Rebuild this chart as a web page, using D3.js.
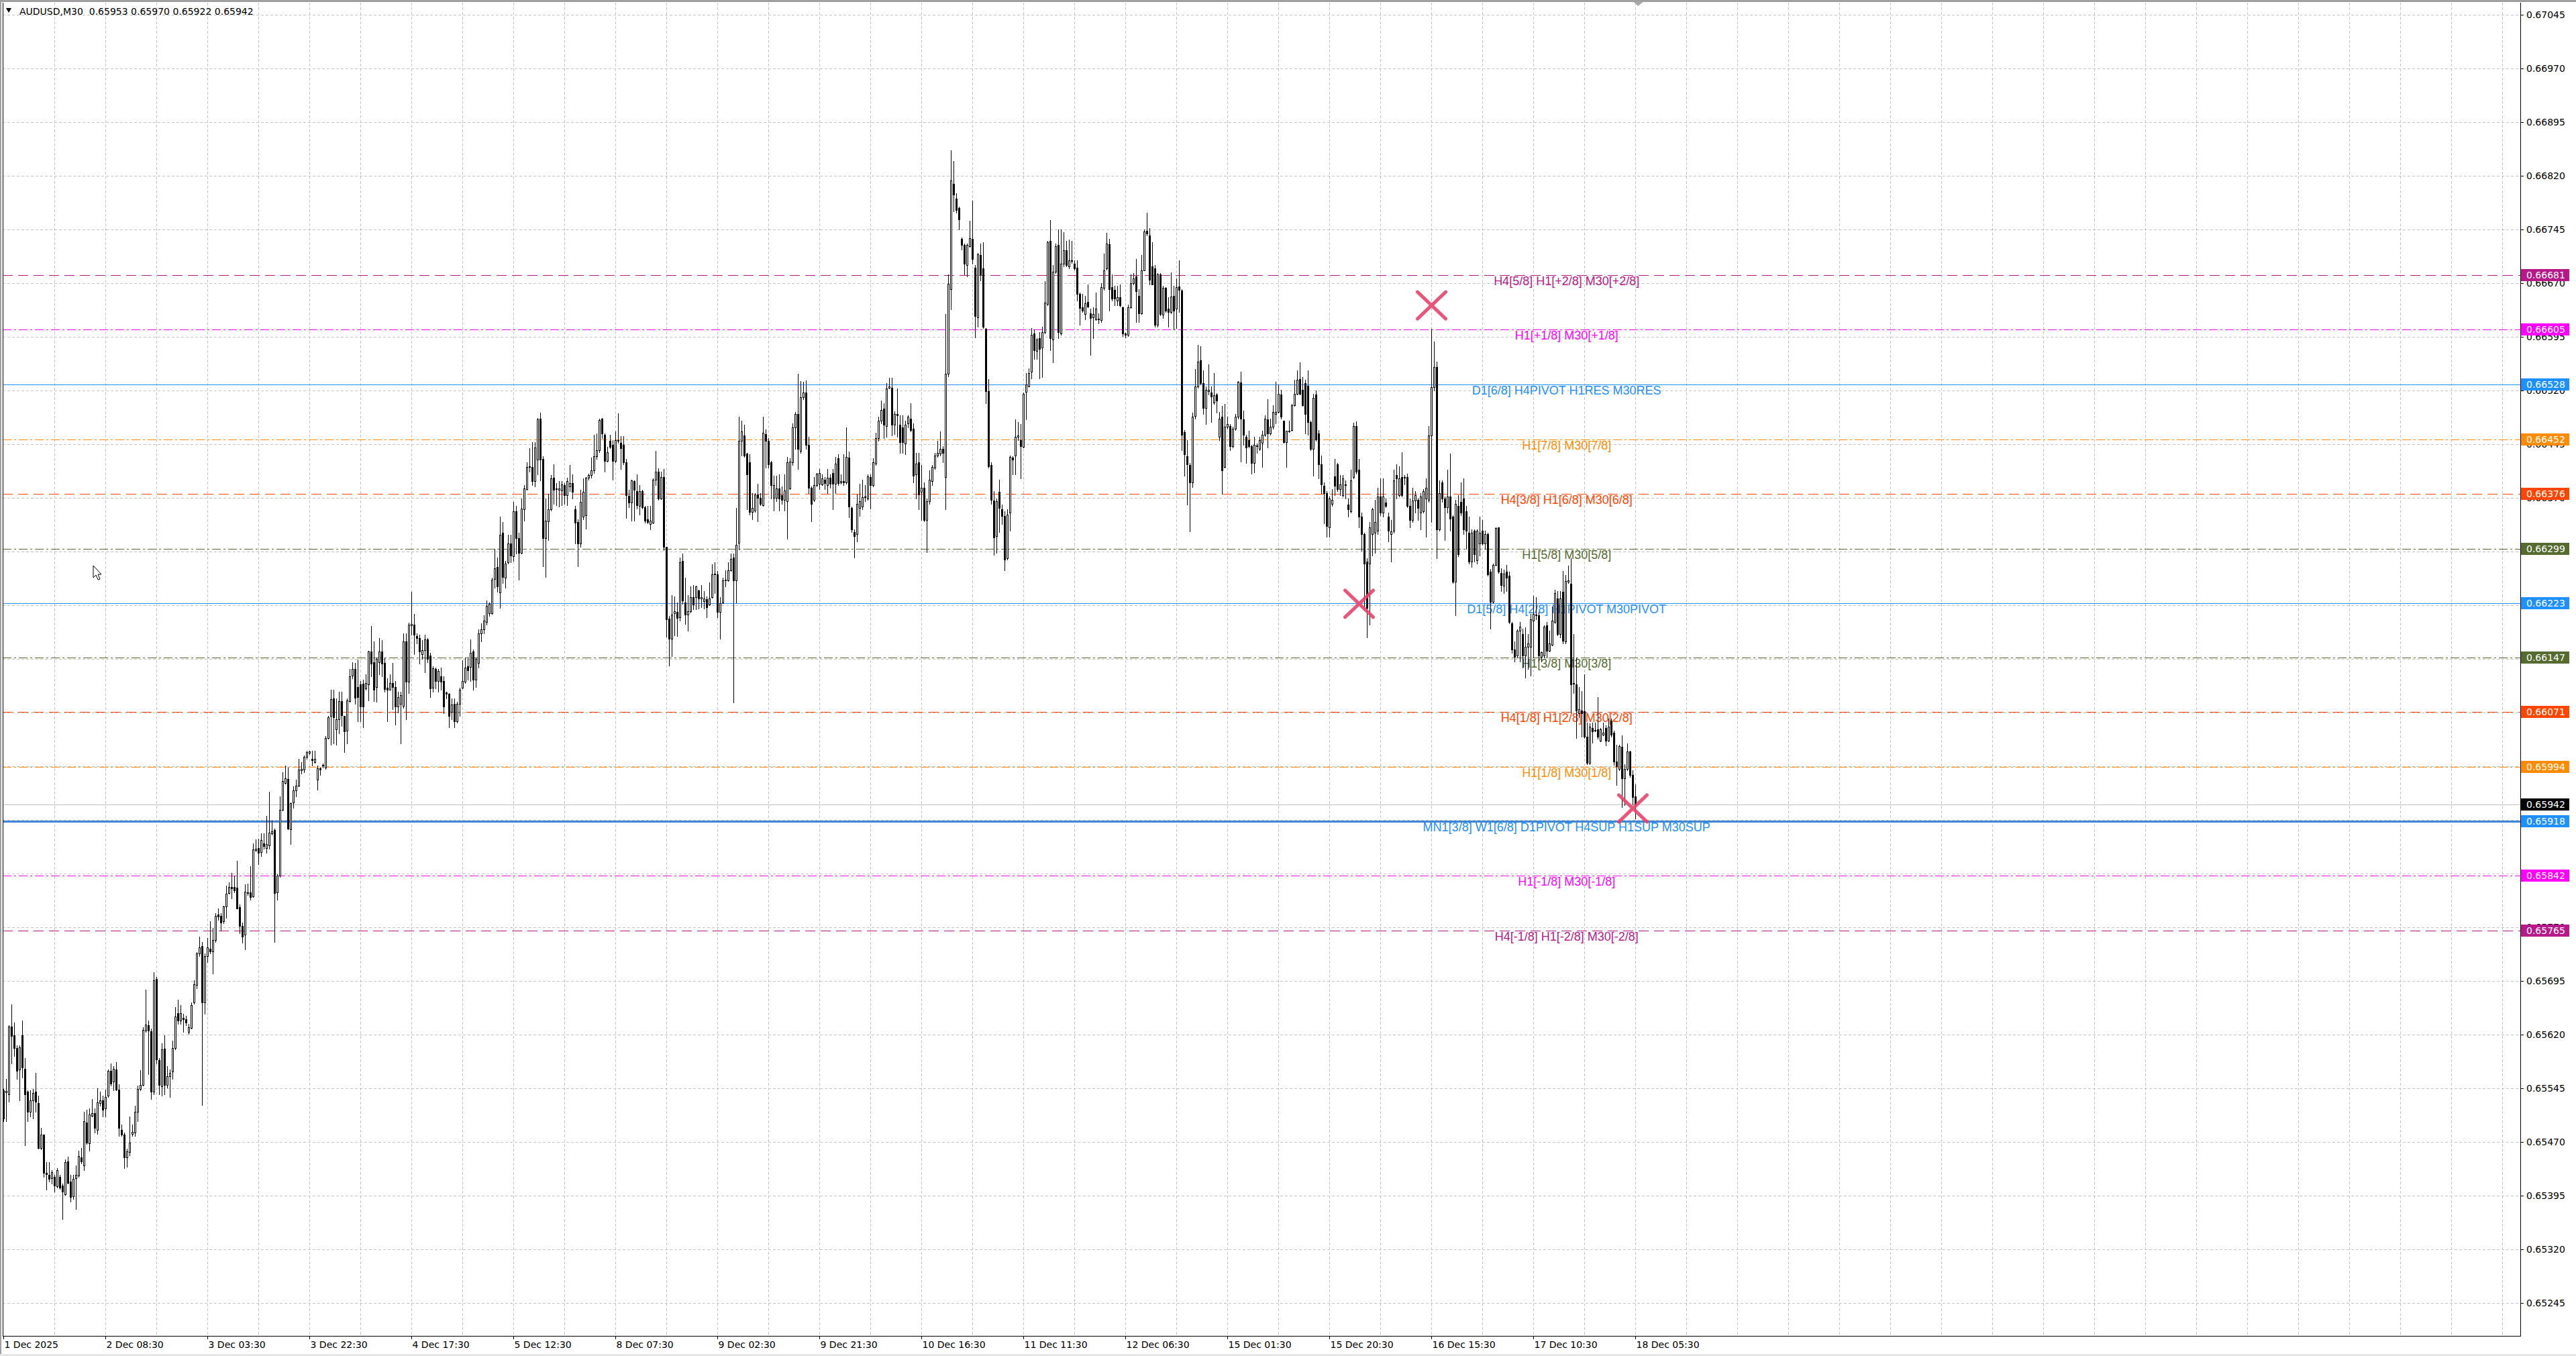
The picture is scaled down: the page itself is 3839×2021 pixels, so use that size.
<!DOCTYPE html>
<html>
<head>
<meta charset="utf-8">
<script src="https://cdn.jsdelivr.net/npm/d3@7"></script>
<style>
html, body { margin: 0; padding: 0; background: #fff; }
svg { display: block; }
</style>
</head>
<body>
<svg id="chart" width="3839" height="2021"></svg>
<script>
// AUDUSD M30 chart with Murrey/pivot levels

const symbolTitle = 'AUDUSD,M30  0.65953 0.65970 0.65922 0.65942';

// one row per M30 bar : [open, high, low, close] in points (1 point = 0.00001)
const bars = [
// 0
[65542,65544,65499,65503],[65539,65558,65499,65541],[65537,65633,65526,65631],[65631,65662,65580,65618],[65619,65637,65590,65601],
[65601,65605,65558,65569],[65571,65605,65528,65602],[65619,65640,65560,65574],[65572,65587,65465,65537],[65540,65542,65499,65512],
[65512,65542,65506,65528],[65528,65544,65503,65538],[65540,65567,65512,65526],[65524,65535,65461,65462],[65462,65490,65460,65480],
[65480,65480,65421,65427],[65427,65442,65403,65425],[65424,65442,65415,65418],[65419,65431,65412,65428],[65421,65424,65401,65409],
// 20
[65408,65433,65406,65431],[65421,65424,65404,65406],[65409,65412,65362,65401],[65397,65446,65396,65442],[65443,65449,65412,65413],
[65415,65424,65387,65393],[65394,65424,65390,65418],[65419,65437,65376,65424],[65423,65458,65421,65450],[65448,65462,65440,65443],
[65437,65512,65431,65499],[65497,65515,65467,65469],[65468,65517,65458,65508],[65507,65530,65506,65510],[65510,65517,65483,65490],
[65487,65545,65481,65525],[65524,65540,65521,65528],[65528,65535,65506,65515],[65517,65543,65506,65533],[65535,65571,65533,65569],
// 40
[65569,65580,65549,65552],[65554,65576,65542,65572],[65571,65582,65542,65543],[65543,65551,65478,65490],[65487,65494,65478,65480],
[65480,65483,65433,65448],[65448,65461,65435,65457],[65456,65506,65451,65469],[65481,65494,65478,65484],[65483,65521,65478,65512],
[65512,65549,65499,65544],[65544,65570,65542,65550],[65550,65630,65549,65627],[65626,65683,65624,65634],[65633,65640,65565,65626],
[65625,65628,65530,65540],[65540,65707,65537,65696],[65698,65701,65580,65585],[65584,65587,65537,65550],[65548,65608,65535,65599],
// 60
[65600,65619,65537,65550],[65550,65576,65546,65562],[65562,65571,65533,65567],[65568,65612,65558,65601],[65601,65658,65599,65645],
[65650,65669,65635,65640],[65640,65661,65635,65650],[65643,65649,65624,65642],[65642,65646,65633,65637],[65624,65635,65621,65630],
[65629,65665,65628,65661],[65665,65696,65663,65690],[65689,65735,65685,65733],[65733,65757,65730,65742],[65744,65749,65522,65665],
[65665,65733,65649,65730],[65730,65755,65721,65742],[65740,65778,65733,65736],[65736,65769,65705,65752],[65752,65790,65749,65786],
// 80
[65788,65796,65780,65785],[65786,65790,65765,65777],[65778,65800,65776,65799],[65799,65828,65783,65817],[65818,65833,65817,65826],
[65826,65846,65810,65824],[65826,65842,65819,65822],[65825,65863,65796,65796],[65798,65802,65762,65772],[65772,65777,65748,65757],
[65760,65830,65739,65820],[65818,65831,65815,65819],[65819,65855,65808,65812],[65813,65887,65812,65879],[65878,65893,65876,65880],
[65881,65894,65858,65874],[65875,65901,65869,65892],[65887,65901,65880,65883],[65881,65926,65874,65886],[65884,65959,65880,65902],
// 100
[65901,65919,65899,65904],[65906,65908,65749,65818],[65819,65844,65808,65842],[65842,65953,65840,65934],[65934,65987,65933,65974],
[65972,65996,65971,65978],[65977,65993,65907,65908],[65907,65944,65886,65943],[65944,65967,65937,65961],[65961,65976,65953,65968],
[65968,66005,65967,65990],[65989,66001,65985,65991],[65990,66010,65987,66008],[66008,66017,66005,66015],[66014,66017,66012,66016],
[66005,66017,65996,66003],[66001,66017,66000,66005],[65976,65996,65962,65992],[65992,65993,65983,65990],[65996,65999,65993,65997],
// 120
[65993,66037,65991,66034],[66034,66065,66033,66063],[66065,66102,66025,66089],[66090,66102,66027,66063],[66047,66090,66025,66061],
[66061,66099,66041,66086],[66086,66099,66051,66066],[66065,66065,66015,66044],[66045,66090,66027,66087],[66086,66131,66085,66121],
[66122,66140,66118,66131],[66131,66139,66082,66091],[66106,66144,66058,66092],[66109,66114,66058,66078],[66110,66116,66049,66078],
[66104,66123,66102,66111],[66109,66156,66087,66155],[66155,66191,66121,66138],[66140,66169,66086,66102],[66106,66147,66085,66145],
// 140
[66140,66174,66123,66155],[66155,66171,66121,66138],[66139,66147,66099,66103],[66105,66118,66058,66102],[66102,66123,66102,66111],
[66111,66139,66075,66106],[66106,66114,66053,66078],[66078,66099,66070,66092],[66082,66099,66027,66094],[66079,66181,66077,66169],
[66169,66181,66061,66113],[66113,66196,66097,66193],[66192,66239,66179,66194],[66193,66208,66152,66179],[66177,66181,66167,66174],
[66174,66179,66138,66155],[66152,66171,66145,66157],[66157,66179,66126,66172],[66172,66174,66140,66145],[66150,66153,66092,66104],
// 160
[66105,66135,66099,66132],[66131,66133,66104,66114],[66114,66131,66099,66128],[66121,66133,66102,66113],[66114,66121,66069,66078],
[66098,66099,66090,66096],[66096,66097,66049,66065],[66071,66090,66061,66081],[66082,66090,66049,66058],[66058,66085,66056,66082],
[66082,66105,66065,66102],[66105,66143,66104,66114],[66113,66147,66111,66133],[66135,66148,66116,66129],[66134,66172,66114,66153],
[66155,66158,66102,66116],[66116,66147,66106,66145],[66139,66186,66133,66181],[66181,66195,66169,66186],[66186,66206,66181,66198],
// 180
[66197,66227,66193,66219],[66209,66224,66205,66222],[66209,66258,66208,66256],[66257,66299,66244,66272],[66273,66287,66239,66246],
[66238,66344,66216,66318],[66321,66336,66251,66259],[66258,66282,66244,66278],[66280,66318,66278,66306],[66306,66318,66280,66289],
[66288,66364,66282,66351],[66351,66359,66292,66314],[66314,66321,66256,66293],[66293,66369,66292,66355],[66354,66388,66338,66383],
[66382,66420,66381,66413],[66413,66439,66407,66414],[66413,66448,66388,66393],[66393,66448,66386,66440],[66423,66482,66403,66480],
// 200
[66481,66489,66394,66423],[66424,66428,66274,66314],[66314,66369,66259,66338],[66337,66376,66311,66354],[66354,66402,66352,66397],
[66398,66417,66362,66381],[66383,66391,66360,66382],[66381,66393,66358,66383],[66380,66393,66360,66389],[66388,66391,66362,66374],
[66374,66398,66360,66393],[66386,66416,66379,66391],[66391,66403,66369,66378],[66354,66359,66306,66335],[66336,66340,66274,66306],
[66306,66381,66302,66364],[66344,66397,66340,66378],[66346,66399,66327,66398],[66398,66404,66395,66402],[66402,66426,66398,66408],
// 220
[66408,66458,66405,66428],[66428,66460,66424,66437],[66437,66481,66434,66479],[66481,66482,66453,66460],[66458,66460,66407,66422],
[66422,66441,66421,66434],[66450,66458,66439,66441],[66444,66451,66395,66422],[66422,66463,66420,66451],[66451,66488,66447,66450],
[66447,66456,66410,66439],[66444,66456,66417,66420],[66420,66424,66342,66374],[66373,66381,66357,66363],[66363,66395,66338,66394],
[66393,66394,66338,66381],[66379,66403,66355,66360],[66359,66388,66347,66379],[66379,66381,66355,66357],[66357,66359,66335,66338],
// 240
[66340,66359,66334,66336],[66333,66359,66326,66338],[66335,66397,66334,66395],[66395,66436,66388,66407],[66407,66411,66367,66369],
[66369,66407,66368,66399],[66399,66410,66297,66302],[66302,66302,66176,66200],[66201,66205,66136,66173],[66173,66234,66149,66207],
[66209,66232,66178,66212],[66211,66224,66177,66202],[66203,66287,66198,66280],[66282,66292,66222,66227],[66224,66258,66194,66207],
[66207,66234,66184,66212],[66212,66246,66210,66231],[66231,66248,66214,66221],[66231,66247,66214,66246],[66241,66242,66215,66229],
// 260
[66229,66248,66217,66231],[66226,66240,66215,66229],[66228,66232,66203,66217],[66221,66252,66220,66229],[66231,66277,66230,66263],
[66264,66280,66237,66263],[66263,66268,66203,66211],[66211,66231,66173,66223],[66224,66258,66223,66255],[66255,66269,66246,66256],
[66255,66280,66254,66269],[66269,66292,66268,66285],[66287,66292,66084,66255],[66255,66356,66224,66304],[66307,66483,66298,66450],
[66450,66478,66429,66463],[66457,66472,66427,66429],[66432,66433,66354,66403],[66420,66431,66347,66350],[66350,66377,66340,66356],
// 280
[66352,66377,66350,66375],[66375,66390,66337,66370],[66370,66377,66360,66362],[66360,66483,66359,66461],[66459,66466,66412,66450],
[66450,66453,66412,66417],[66420,66422,66369,66388],[66370,66401,66352,66388],[66370,66401,66365,66383],[66383,66403,66352,66369],
[66374,66386,66362,66367],[66367,66403,66352,66380],[66365,66427,66313,66420],[66383,66425,66382,66421],[66420,66474,66416,66468],
[66468,66490,66438,66487],[66487,66543,66410,66438],[66436,66533,66433,66511],[66511,66532,66508,66517],[66517,66534,66438,66444],
// 300
[66444,66455,66377,66384],[66384,66386,66337,66362],[66367,66399,66365,66388],[66388,66405,66386,66404],[66390,66410,66382,66405],
[66389,66403,66388,66397],[66395,66399,66382,66391],[66388,66410,66377,66398],[66398,66403,66384,66390],[66405,66410,66354,66390],
[66390,66427,66377,66418],[66425,66431,66388,66391],[66392,66403,66390,66393],[66393,66431,66388,66392],[66392,66468,66390,66427],
[66426,66435,66343,66358],[66356,66358,66322,66326],[66322,66326,66287,66317],[66319,66375,66309,66362],[66356,66390,66345,66365],
// 320
[66358,66395,66354,66371],[66371,66388,66365,66372],[66369,66403,66367,66400],[66399,66403,66355,66388],[66388,66425,66386,66420],
[66418,66461,66416,66453],[66453,66483,66450,66478],[66478,66506,66474,66493],[66495,66502,66453,66472],[66470,66530,66455,66523],
[66524,66538,66523,66526],[66524,66538,66457,66472],[66472,66491,66459,66487],[66487,66523,66455,66485],[66472,66485,66433,66448],
[66468,66485,66433,66448],[66446,66478,66431,66472],[66474,66485,66468,66483],[66481,66502,66463,66465],[66467,66474,66392,66401],
// 340
[66403,66433,66369,66418],[66420,66433,66354,66375],[66378,66416,66339,66384],[66384,66392,66337,66339],[66339,66369,66294,66365],
[66365,66408,66362,66395],[66393,66416,66388,66413],[66412,66433,66410,66429],[66429,66450,66427,66433],[66432,66463,66429,66438],
[66438,66442,66420,66433],[66399,66627,66354,66543],[66543,66682,66540,66669],[66662,66856,66633,66813],[66809,66841,66770,66794],
[66788,66796,66768,66772],[66775,66777,66745,66759],[66732,66734,66717,66723],[66723,66725,66682,66697],[66695,66725,66679,66723],
// 360
[66722,66757,66721,66733],[66732,66785,66697,66704],[66692,66695,66594,66624],[66622,66712,66609,66710],[66709,66725,66674,66682],
[66691,66727,66607,66609],[66606,66607,66502,66519],[66519,66536,66412,66414],[66416,66420,66362,66367],[66366,66379,66290,66315],
[66317,66369,66293,66365],[66378,66395,66322,66356],[66354,66361,66333,66345],[66345,66351,66269,66284],[66286,66354,66284,66347],
[66349,66429,66324,66427],[66426,66428,66403,66423],[66429,66480,66403,66455],[66455,66476,66451,66457],[66451,66473,66397,66442],
// 380
[66441,66517,66440,66515],[66518,66544,66480,66528],[66526,66551,66526,66544],[66546,66607,66537,66598],[66600,66605,66564,66576],
[66575,66593,66564,66591],[66593,66602,66537,66578],[66580,66609,66539,66602],[66602,66673,66600,66643],[66641,66729,66639,66727],
[66729,66758,66576,66593],[66591,66695,66559,66686],[66686,66725,66684,66722],[66723,66745,66593,66602],[66600,66745,66598,66697],
[66697,66741,66693,66716],[66716,66729,66693,66695],[66693,66731,66691,66702],[66701,66729,66698,66702],[66697,66702,66689,66691],
// 400
[66692,66702,66646,66655],[66655,66657,66612,66635],[66636,66655,66630,66632],[66627,66652,66619,66642],[66644,66668,66636,66637],
[66628,66634,66570,66621],[66622,66636,66593,66627],[66619,66657,66618,66634],[66619,66628,66614,66620],[66618,66670,66616,66664],
[66663,66711,66661,66688],[66691,66740,66689,66725],[66724,66732,66632,66662],[66664,66682,66646,66648],[66661,66666,66639,66648],
[66646,66666,66639,66650],[66650,66668,66637,66639],[66636,66637,66596,66600],[66600,66601,66594,66598],[66598,66640,66596,66636],
// 420
[66636,66682,66635,66670],[66670,66684,66668,66677],[66679,66704,66616,66659],[66652,66662,66616,66628],[66628,66709,66627,66688],
[66688,66745,66688,66742],[66743,66768,66737,66739],[66737,66747,66668,66675],[66693,66727,66668,66668],[66691,66695,66609,66612],
[66612,66684,66609,66682],[66682,66684,66625,66627],[66626,66666,66621,66663],[66663,66664,66630,66632],[66634,66650,66609,66630],
[66630,66685,66628,66651],[66652,66666,66605,66632],[66634,66677,66607,66664],[66665,66702,66630,66661],[66660,66662,66437,66458],
// 440
[66462,66465,66401,66431],[66428,66451,66361,66417],[66416,66419,66323,66392],[66392,66489,66385,66483],[66484,66550,66481,66526],
[66526,66584,66524,66560],[66562,66582,66528,66530],[66530,66548,66487,66496],[66496,66526,66473,66521],[66519,66557,66514,66521],
[66517,66526,66476,66512],[66503,66544,66501,66513],[66514,66516,66489,66506],[66455,66490,66451,66481],[66483,66498,66376,66408],
[66413,66501,66412,66469],[66469,66483,66467,66473],[66470,66473,66437,66442],[66442,66469,66440,66467],[66467,66487,66465,66483],
// 460
[66483,66533,66481,66532],[66531,66546,66421,66481],[66480,66492,66444,66458],[66455,66458,66419,66440],[66451,66464,66440,66442],
[66442,66444,66404,66419],[66419,66455,66406,66444],[66443,66446,66433,66442],[66438,66455,66437,66451],[66447,66464,66413,66458],
[66458,66485,66456,66481],[66480,66508,66440,66460],[66460,66481,66458,66469],[66469,66499,66467,66490],[66487,66532,66474,66490],
[66490,66528,66489,66515],[66514,66521,66481,66483],[66478,66478,66447,66448],[66448,66464,66413,66464],[66463,66478,66462,66464],
// 480
[66465,66501,66464,66499],[66499,66535,66498,66515],[66515,66548,66514,66535],[66536,66559,66514,66515],[66521,66539,66498,66499],
[66530,66535,66460,66487],[66527,66548,66458,66476],[66476,66478,66437,66438],[66438,66515,66401,66510],[66514,66520,66450,66452],
[66460,66465,66397,66417],[66417,66429,66377,66389],[66387,66392,66334,66377],[66377,66379,66316,66331],[66329,66372,66316,66369],
[66362,66382,66359,66367],[66400,66424,66374,66387],[66417,66419,66379,66382],[66382,66402,66374,66389],[66374,66402,66372,66397],
// 500
[66389,66394,66369,66388],[66361,66369,66344,66354],[66351,66409,66349,66394],[66399,66475,66397,66470],[66470,66477,66404,66407],
[66409,66424,66329,66344],[66344,66349,66296,66319],[66319,66321,66216,66278],[66281,66286,66175,66216],[66278,66336,66193,66329],
[66319,66356,66289,66354],[66321,66367,66293,66336],[66324,66384,66319,66372],[66372,66397,66346,66349],[66349,66397,66344,66372],
[66363,66369,66357,66359],[66344,66349,66309,66324],[66319,66339,66281,66323],[66324,66409,66321,66394],[66402,66417,66369,66397],
// 520
[66374,66414,66372,66397],[66399,66434,66372,66374],[66398,66402,66389,66399],[66399,66404,66357,66359],[66359,66369,66329,66339],
[66339,66384,66336,66366],[66366,66379,66349,66374],[66367,66369,66339,66356],[66349,66377,66326,66372],[66351,66382,66349,66379],
[66369,66397,66316,66384],[66367,66470,66364,66457],[66457,66606,66336,66525],[66525,66588,66520,66553],[66553,66560,66286,66326],
[66326,66394,66324,66377],[66392,66394,66364,66369],[66369,66372,66311,66357],[66357,66409,66349,66372],[66372,66432,66324,66341],
// 540
[66344,66346,66251,66253],[66253,66367,66206,66362],[66359,66374,66288,66291],[66364,66392,66346,66349],[66369,66397,66319,66326],
[66351,66359,66299,66324],[66321,66344,66278,66281],[66281,66326,66273,66321],[66324,66326,66281,66291],[66283,66326,66278,66324],
[66306,66344,66289,66321],[66324,66339,66304,66306],[66306,66324,66299,66319],[66319,66321,66261,66263],[66267,66271,66187,66225],
[66225,66278,66223,66276],[66276,66329,66275,66328],[66329,66329,66265,66267],[66265,66272,66240,66248],[66247,66270,66237,66264],
// 560
[66267,66276,66240,66258],[66261,66267,66195,66197],[66195,66197,66153,66158],[66158,66169,66141,66148],[66150,66186,66148,66184],
[66184,66197,66141,66190],[66180,66187,66133,66150],[66150,66189,66119,66162],[66162,66180,66131,66167],[66162,66208,66122,66200],
[66198,66233,66147,66208],[66207,66231,66200,66206],[66206,66211,66142,66150],[66148,66155,66141,66154],[66150,66192,66147,66190],
[66192,66197,66147,66156],[66156,66184,66155,66167],[66165,66218,66164,66198],[66197,66242,66195,66237],[66229,66240,66178,66180],
// 580
[66180,66240,66175,66229],[66239,66268,66167,66170],[66169,66262,66167,66254],[66253,66275,66251,66255],[66250,66286,66070,66109],
[66111,66180,66097,66110],[66109,66147,66034,66073],[66069,66106,66063,66075],[66073,66100,66036,66069],[66072,66123,66034,66036],
[66036,66056,65998,66000],[66000,66055,65998,66050],[66048,66056,66028,66044],[66045,66056,66044,66046],[66047,66092,66033,66036],
[66031,66048,66030,66047],[66039,66056,66038,66042],[66048,66052,66024,66031],[66031,66062,66030,66050],[66059,66062,66036,66039],
// 600
[66042,66045,65997,66002],[66002,66025,65969,65995],[65991,66025,65989,66023],[66022,66038,65938,65978],[65978,65998,65941,65991],
[65991,66027,65989,66016],[66016,66017,65980,65983],[65983,65989,65942,65952],[65953,65970,65922,65942]
];

const priceTicks = [0.67045, 0.66970, 0.66895, 0.66820, 0.66745, 0.66670, 0.66595, 0.66520, 0.66445,
  0.66370, 0.66295, 0.66220, 0.66145, 0.66070, 0.65995, 0.65920, 0.65845, 0.65770, 0.65695,
  0.65620, 0.65545, 0.65470, 0.65395, 0.65320, 0.65245];

const timeLabels = ['1 Dec 2025', '2 Dec 08:30', '3 Dec 03:30', '3 Dec 22:30', '4 Dec 17:30', '5 Dec 12:30',
  '8 Dec 07:30', '9 Dec 02:30', '9 Dec 21:30', '10 Dec 16:30', '11 Dec 11:30', '12 Dec 06:30',
  '15 Dec 01:30', '15 Dec 20:30', '16 Dec 15:30', '17 Dec 10:30', '18 Dec 05:30'];
const timeLabelBars = [0, 38, 76, 114, 152, 190, 228, 266, 304, 342, 380, 418, 456, 494, 532, 570, 608];

const levelPrices = [0.66681, 0.66605, 0.66528, 0.66452, 0.66376, 0.66299, 0.66223,
  0.66147, 0.66071, 0.65994, 0.65918, 0.65842, 0.65765];
const levelNames = [
  'H4[5/8] H1[+2/8] M30[+2/8]',
  'H1[+1/8] M30[+1/8]',
  'D1[6/8] H4PIVOT H1RES M30RES',
  'H1[7/8] M30[7/8]',
  'H4[3/8] H1[6/8] M30[6/8]',
  'H1[5/8] M30[5/8]',
  'D1[5/8] H4[2/8] H1PIVOT M30PIVOT',
  'H1[3/8] M30[3/8]',
  'H4[1/8] H1[2/8] M30[2/8]',
  'H1[1/8] M30[1/8]',
  'MN1[3/8] W1[6/8] D1PIVOT H4SUP H1SUP M30SUP',
  'H1[-1/8] M30[-1/8]',
  'H4[-1/8] H1[-2/8] M30[-2/8]'
];
const levelColors = ['#b8198a', '#ff00ff', '#1e90ff', '#ff8c00', '#ff4500', '#556b2f', '#1e90ff',
  '#556b2f', '#ff4500', '#ff8c00', '#1e90ff', '#ff00ff', '#b8198a'];
const levelKinds = ['dash', 'dashdot', 'solid', 'dashdot', 'dash', 'dashdot', 'solid',
  'dashdot', 'dash', 'dashdot', 'main', 'dashdot', 'dash'];
const levelLabelBar = 582.3;

const lastPrice = 0.65942;

// crosses drawn by the indicator: bar index and price
const crossBars = [532, 505, 607];
const crossPrices = [0.66639, 0.66222, 0.65936];

// ---- layout ----
const W = 3839, H = 2021;
const plot = {left: 4, right: 3756, top: 4, bottom: 1991};
const font = '"DejaVu Sans", Verdana, sans-serif';

const svg = d3.select('#chart');
svg.append('rect').attr('width', W).attr('height', H).attr('fill', '#fff');

// bar index -> pixel column centre (4 px per bar)
const x = d3.scaleLinear().domain([0, 100]).range([5.5, 405.5]);
const y = d3.scaleLinear().domain([0.67045, 0.65245]).range([22, 1942]);
const py = p => Math.round(y(p));
const pt = v => v / 1e5;

//grid
const grid = svg.append('g').attr('shape-rendering', 'crispEdges')
  .attr('stroke', '#c3c3c3').attr('stroke-dasharray', '4,3');
grid.selectAll('.hg').data(priceTicks).join('line')
  .attr('x1', plot.left).attr('x2', plot.right)
  .attr('y1', d => py(d) + 0.5).attr('y2', d => py(d) + 0.5);
grid.selectAll('.vg').data(d3.range(19, 938, 19)).join('line')
  .attr('x1', d => x(d)).attr('x2', d => x(d))
  .attr('y1', plot.top).attr('y2', plot.bottom);

// level lines
const dashFor = {dash: '15,8', dashdot: '13,4,3,4', solid: null, main: null};
const levels = svg.append('g').attr('shape-rendering', 'crispEdges');
levels.append('line')
  .attr('x1', plot.left).attr('x2', plot.right)
  .attr('y1', py(lastPrice) + 0.5).attr('y2', py(lastPrice) + 0.5)
  .attr('stroke', '#c0c0c0');
levels.selectAll('.lv').data(levelPrices).join('line')
  .attr('x1', plot.left).attr('x2', plot.right)
  .attr('y1', d => py(d) + 0.5).attr('y2', d => py(d) + 0.5)
  .attr('stroke', (d, i) => levelKinds[i] === 'main' ? '#3f86d4' : levelColors[i])
  .attr('stroke-width', (d, i) => levelKinds[i] === 'main' ? 2.5 : 1)
  .attr('stroke-dasharray', (d, i) => dashFor[levelKinds[i]]);

// level names
svg.append('g').selectAll('text').data(levelPrices).join('text')
  .attr('x', x(levelLabelBar)).attr('y', d => py(d) + 15)
  .attr('text-anchor', 'middle')
  .attr('font-family', '"Liberation Sans", Arial, sans-serif')
  .attr('font-size', 18)
  .attr('fill', (d, i) => levelColors[i])
  .text((d, i) => levelNames[i]);

// candles
const candles = svg.append('g').attr('shape-rendering', 'crispEdges');
candles.selectAll('.wick').data(bars).join('line')
  .attr('x1', (d, i) => x(i)).attr('x2', (d, i) => x(i))
  .attr('y1', d => py(pt(d3.max(d)))).attr('y2', d => py(pt(d3.min(d))) + 1)
  .attr('stroke', '#000');
candles.selectAll('.body').data(bars).join('rect')
  .each(function(d, i) {
    const top = py(pt(Math.max(d[0], d[3])));
    const bot = py(pt(Math.min(d[0], d[3])));
    const up = d[3] > d[0];
    const r = d3.select(this);
    if (up && bot - top >= 2) {
      r.attr('x', x(i) - 1).attr('width', 2)
       .attr('y', top + 0.5).attr('height', bot - top)
       .attr('fill', '#fff').attr('stroke', '#000');
    } else {
      r.attr('x', x(i) - 1.5).attr('width', 3)
       .attr('y', top).attr('height', Math.max(1, bot - top + 1))
       .attr('fill', '#000');
    }
  });

// crosses
const crosses = svg.append('g').attr('stroke', '#e8436b').attr('stroke-width', 5)
  .attr('stroke-linecap', 'round').attr('opacity', 0.9);
crossBars.forEach((b, i) => {
  const cx = x(b), cy = y(crossPrices[i]);
  crosses.append('line').attr('x1', cx - 21).attr('y1', cy - 20).attr('x2', cx + 21).attr('y2', cy + 20);
  crosses.append('line').attr('x1', cx - 21).attr('y1', cy + 20).attr('x2', cx + 21).attr('y2', cy - 20);
});

// window edges and plot frame
svg.append('rect').attr('x', 0).attr('y', 0).attr('width', W).attr('height', 3).attr('fill', '#a0a0a0');
svg.append('rect').attr('x', 0).attr('y', 0).attr('width', 2).attr('height', H).attr('fill', '#a0a0a0');
svg.append('rect').attr('x', 0).attr('y', H - 3).attr('width', W).attr('height', 3).attr('fill', '#e6e6e6');
svg.append('path')
  .attr('d', `M${plot.left + 0.5},${plot.top} V${plot.bottom + 0.5} H${plot.right + 0.5} V${plot.top}`)
  .attr('fill', 'none').attr('stroke', '#000').attr('shape-rendering', 'crispEdges');

// shift marker at top
const sx = x(609);
svg.append('path').attr('d', `M${sx - 7},3 L${sx + 7},3 L${sx},9 Z`).attr('fill', '#a8a8a8');

// price axis
const axisR = svg.append('g').attr('font-family', font).attr('font-size', 14);
axisR.selectAll('line').data(priceTicks).join('line')
  .attr('x1', plot.right).attr('x2', plot.right + 5)
  .attr('y1', d => py(d) + 0.5).attr('y2', d => py(d) + 0.5)
  .attr('stroke', '#000').attr('shape-rendering', 'crispEdges');
axisR.selectAll('text').data(priceTicks).join('text')
  .attr('x', 3765).attr('y', d => py(d) + 5)
  .attr('fill', '#000')
  .text(d => d3.format('.5f')(d));

// level price boxes
const boxes = svg.append('g').attr('font-family', font).attr('font-size', 14);
const boxData = levelPrices.map((p, i) => ({p, c: levelColors[i]}))
  .concat([{p: lastPrice, c: '#000'}]);
boxes.selectAll('rect').data(boxData).join('rect')
  .attr('x', plot.right + 1).attr('y', d => py(d.p) - 9)
  .attr('width', 72).attr('height', 18)
  .attr('fill', d => d.c);
boxes.selectAll('text').data(boxData).join('text')
  .attr('x', 3765).attr('y', d => py(d.p) + 5)
  .attr('fill', '#fff')
  .text(d => d3.format('.5f')(d.p));

// time axis
const axisB = svg.append('g').attr('font-family', font).attr('font-size', 14);
axisB.selectAll('line').data(timeLabelBars).join('line')
  .attr('x1', d => Math.max(x(d), plot.left + 0.5)).attr('x2', d => Math.max(x(d), plot.left + 0.5))
  .attr('y1', plot.bottom).attr('y2', plot.bottom + 5)
  .attr('stroke', '#000').attr('shape-rendering', 'crispEdges');
axisB.selectAll('text').data(timeLabelBars).join('text')
  .attr('x', d => Math.max(x(d), plot.left) + 1).attr('y', 2009)
  .attr('fill', '#000')
  .text((d, i) => timeLabels[i]);

// title
svg.append('path').attr('d', 'M9,12 L17,12 L13,19 Z').attr('fill', '#000');
svg.append('text').attr('x', 29).attr('y', 22)
  .attr('font-family', font).attr('font-size', 14).attr('fill', '#000')
  .attr('xml:space', 'preserve')
  .text(symbolTitle);

// mouse pointer left on the chart
svg.append('path')
  .attr('d', 'M139,843 L139,861 L143,857 L146,864 L149,863 L146,856 L151,856 Z')
  .attr('fill', '#fff').attr('stroke', '#000').attr('stroke-width', 1);
</script>
</body>
</html>
